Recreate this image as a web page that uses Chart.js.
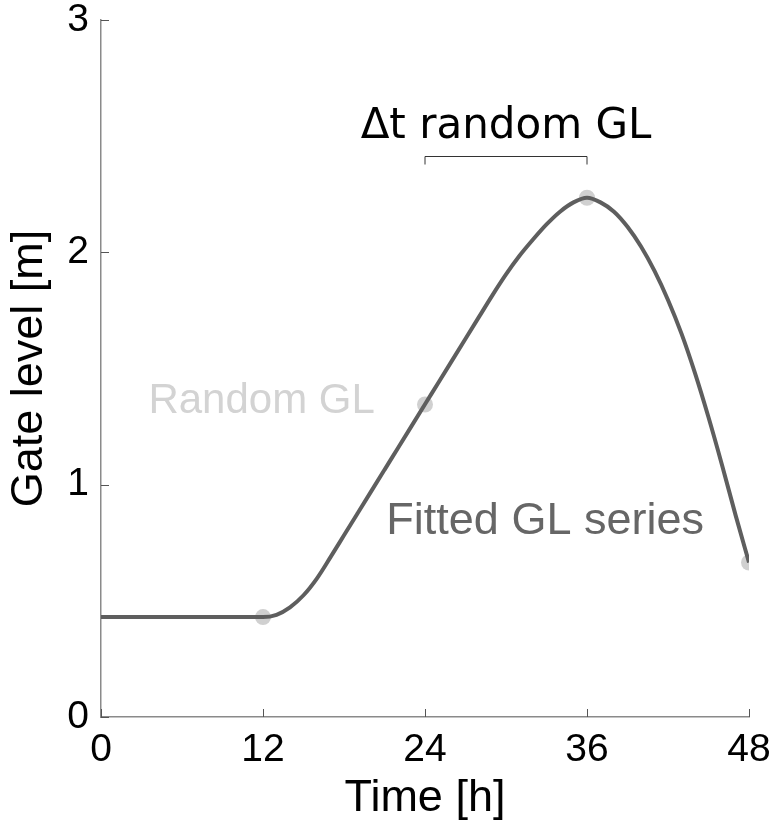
<!DOCTYPE html>
<html>
<head>
<meta charset="utf-8">
<script src="https://cdn.jsdelivr.net/npm/chart.js@4"></script>
<style>
  html, body { margin: 0; padding: 0; background: #fff; }
  #wrap { width: 781px; height: 829px; }
</style>
</head>
<body>
<div id="wrap"><canvas id="glChart" width="781" height="829"></canvas></div>
<script>
// Fitted gate level series
const hours = [0, 1, 2, 3, 4, 5, 6, 7, 8, 9, 10, 11, 12,
    13, 14, 15, 16, 17, 18, 19, 20, 21, 22, 23, 24,
    25, 26, 27, 28, 29, 30, 31, 32, 33, 34, 35, 36,
    37, 38, 39, 40, 41, 42, 43, 44, 45, 46, 47, 48];
const fittedGL = [0.43, 0.43, 0.43, 0.43, 0.43, 0.43, 0.43, 0.43, 0.43, 0.43, 0.43, 0.43, 0.43,
    0.44, 0.472, 0.524, 0.597, 0.688, 0.782, 0.876, 0.97, 1.064, 1.158, 1.252, 1.346,
    1.44, 1.534, 1.628, 1.722, 1.816, 1.905, 1.985, 2.055, 2.12, 2.175, 2.215, 2.235,
    2.215, 2.175, 2.11, 2.025, 1.92, 1.795, 1.65, 1.48, 1.29, 1.085, 0.87, 0.665];

// Random gate levels (grey dots)
const randomHours = [12, 24, 36, 48];
const randomGL = [0.43, 1.345, 2.235, 0.665];

const xTicks = [0, 12, 24, 36, 48];
const yTicks = [0, 1, 2, 3];

const FONT = "'Liberation Sans', Arial, sans-serif";

// Tick marks pointing into the plot, like the original figure
const inwardTicks = {
    id: 'inwardTicks',
    afterDraw(chart) {
        const { ctx, chartArea, scales } = chart;
        ctx.save();
        ctx.strokeStyle = '#555';
        ctx.lineWidth = 1;
        ctx.beginPath();
        xTicks.forEach(v => {
            const px = Math.round(scales.x.getPixelForValue(v)) + 0.5;
            ctx.moveTo(px, chartArea.bottom);
            ctx.lineTo(px, chartArea.bottom - 8);
        });
        yTicks.forEach(v => {
            const py = Math.round(scales.y.getPixelForValue(v)) + 0.5;
            ctx.moveTo(chartArea.left, py);
            ctx.lineTo(chartArea.left + 8, py);
        });
        ctx.stroke();
        ctx.restore();
    }
};

// Text labels and the Δt bracket
const annotations = {
    id: 'annotations',
    afterDraw(chart) {
        const { ctx, scales } = chart;
        const x = v => scales.x.getPixelForValue(v);
        const y = v => scales.y.getPixelForValue(v);
        ctx.save();
        ctx.textBaseline = 'middle';
        ctx.textAlign = 'center';

        ctx.fillStyle = '#d3d3d3';
        ctx.font = `42px ${FONT}`;
        ctx.fillText('Random GL', x(11.9), y(1.36));

        ctx.fillStyle = '#666666';
        ctx.font = `45px ${FONT}`;
        ctx.fillText('Fitted GL series', x(32.9), y(0.84));

        ctx.fillStyle = '#000';
        ctx.font = `42px 'DejaVu Sans', sans-serif`;
        ctx.fillText('\u0394t random GL', x(30), y(2.54));

        // bracket over the 24-36 h interval
        const bY = Math.round(y(2.415)) + 0.5;
        ctx.strokeStyle = '#333';
        ctx.lineWidth = 1;
        ctx.beginPath();
        ctx.moveTo(x(24), bY + 8);
        ctx.lineTo(x(24), bY);
        ctx.lineTo(x(36), bY);
        ctx.lineTo(x(36), bY + 8);
        ctx.stroke();
        ctx.restore();
    }
};

const ctx = document.getElementById('glChart').getContext('2d');
new Chart(ctx, {
    type: 'line',
    data: {
        datasets: [
            {
                label: 'Fitted GL series',
                data: hours.map((h, i) => ({ x: h, y: fittedGL[i] })),
                borderColor: '#5e5e5e',
                borderWidth: 4,
                pointRadius: 0,
                cubicInterpolationMode: 'monotone',
                fill: false,
                order: 0
            },
            {
                label: 'Random GL',
                data: randomHours.map((h, i) => ({ x: h, y: randomGL[i] })),
                showLine: false,
                pointRadius: 8,
                pointBackgroundColor: '#d0d0d0',
                pointBorderWidth: 0,
                order: 1
            }
        ]
    },
    options: {
        responsive: false,
        animation: false,
        devicePixelRatio: 1,
        layout: { padding: { top: 20, right: 32, left: 0, bottom: 0 } },
        plugins: {
            legend: { display: false },
            tooltip: { enabled: false }
        },
        scales: {
            x: {
                type: 'linear',
                min: 0,
                max: 48,
                afterBuildTicks: s => { s.ticks = xTicks.map(v => ({ value: v })); },
                afterFit: s => { s.height = 112; s.paddingLeft = 0; s.paddingRight = 0; },
                grid: { display: false, drawTicks: false },
                border: { color: '#8a8a8a', width: 1.5 },
                ticks: { color: '#000', padding: 10, font: { family: FONT, size: 39 } },
                title: {
                    display: true,
                    text: 'Time [h]',
                    color: '#000',
                    font: { family: FONT, size: 45 },
                    padding: { top: 0, bottom: 3 }
                }
            },
            y: {
                min: 0,
                max: 3,
                afterBuildTicks: s => { s.ticks = yTicks.map(v => ({ value: v })); },
                afterFit: s => { s.width = 101; s.paddingTop = 0; s.paddingBottom = 0; },
                grid: { display: false, drawTicks: false },
                border: { color: '#8a8a8a', width: 1.5 },
                ticks: { color: '#000', padding: 12, font: { family: FONT, size: 39 } },
                title: {
                    display: true,
                    text: 'Gate level [m]',
                    color: '#000',
                    font: { family: FONT, size: 45 },
                    padding: { top: 3, bottom: 0 }
                }
            }
        }
    },
    plugins: [inwardTicks, annotations]
});
</script>
</body>
</html>
